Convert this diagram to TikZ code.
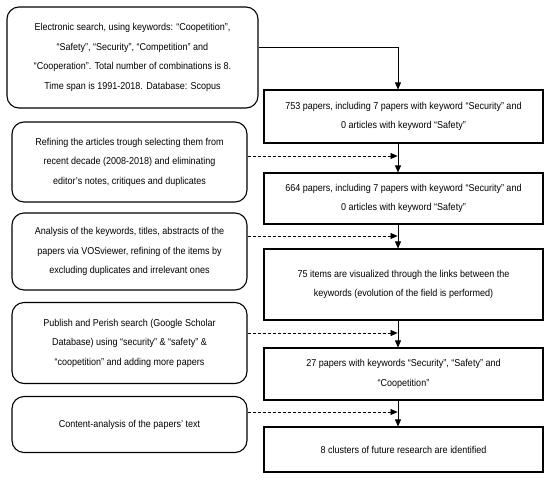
\documentclass[tikz,border=0pt]{standalone}
\usepackage{fontspec}
\setmainfont{Liberation Sans}[FakeStretch=0.9]
\usetikzlibrary{arrows.meta}
\begin{document}
\begin{tikzpicture}[x=1pt,y=-1pt,
  txt/.style={font=\fontsize{10}{19.5}\selectfont, align=center, inner sep=0pt},
  lbox/.style={txt, draw, line width=1.1pt, rounded corners=12pt},
  rbox/.style={txt, draw, line width=1.1pt},
  arr/.style={line width=0.7pt, -{Triangle[length=7pt,width=6pt]}},
  darr/.style={line width=0.7pt, dash pattern=on 3pt off 2pt, -{Triangle[length=7pt,width=6pt]}}
]
\useasboundingbox (0,0) rectangle (550,480);
% left boxes
\node[lbox, minimum width=251pt, minimum height=101pt] (L1) at (132.5,57.5)
  {Electronic search, using keywords: “Coopetition”,\\ “Safety”, “Security”, “Competition” and\\ “Cooperation”. Total number of combinations is 8.\\ Time span is 1991-2018. Database: Scopus};
\node[lbox, minimum width=235pt, minimum height=80pt] (L2) at (129.5,162)
  {Refining the articles trough selecting them from\\ recent decade (2008-2018) and eliminating\\ editor's notes, critiques and duplicates};
\node[lbox, minimum width=235pt, minimum height=77pt] (L3) at (129.5,251.5)
  {Analysis of the keywords, titles, abstracts of the\\ papers via VOSviewer, refining of the items by\\ excluding duplicates and irrelevant ones};
\node[lbox, minimum width=235pt, minimum height=81pt] (L4) at (129.5,343)
  {Publish and Perish search (Google Scholar\\ Database) using “security” \& “safety” \&\\ “coopetition” and adding more papers};
\node[lbox, minimum width=235pt, minimum height=56pt] (L5) at (129.5,424.5)
  {Content-analysis of the papers' text};
% right boxes
\node[rbox, minimum width=279pt, minimum height=53pt] (R1) at (403.5,116.5)
  {753 papers, including 7 papers with keyword “Security” and\\ 0 articles with keyword “Safety”};
\node[rbox, minimum width=279pt, minimum height=51pt] (R2) at (403.5,198.5)
  {664 papers, including 7 papers with keyword “Security” and\\ 0 articles with keyword “Safety”};
\node[rbox, minimum width=279pt, minimum height=71pt] (R3) at (403.5,284.5)
  {75 items are visualized through the links between the\\ keywords (evolution of the field is performed)};
\node[rbox, minimum width=279pt, minimum height=52pt] (R4) at (403.5,374)
  {27 papers with keywords “Security”, “Safety” and\\ “Coopetition”};
\node[rbox, minimum width=279pt, minimum height=45pt] (R5) at (403.5,449.5)
  {8 clusters of future research are identified};
% spine
\coordinate (s) at (398,0);
\draw[arr] (L1.east |- 0,47) -- (s |- 0,47) -- (s |- R1.north);
\draw[arr] (s |- R1.south) -- (s |- R2.north);
\draw[arr] (s |- R2.south) -- (s |- R3.north);
\draw[arr] (s |- R3.south) -- (s |- R4.north);
\draw[arr] (s |- R4.south) -- (s |- R5.north);
% dashed arrows
\draw[darr] (L2.east |- 0,156) -- ([xshift=-0.4pt]s |- 0,156);
\draw[darr] (L3.east |- 0,236) -- ([xshift=-0.4pt]s |- 0,236);
\draw[darr] (L4.east |- 0,333) -- ([xshift=-0.4pt]s |- 0,333);
\draw[darr] (L5.east |- 0,412) -- ([xshift=-0.4pt]s |- 0,412);
\end{tikzpicture}
\end{document}
